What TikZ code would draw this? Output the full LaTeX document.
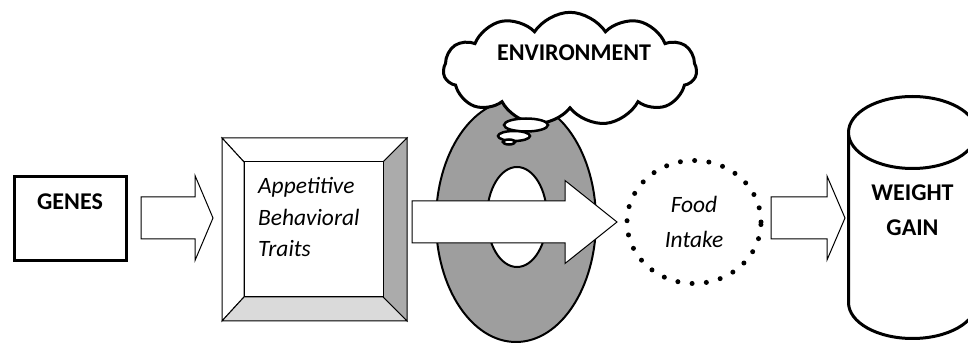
\documentclass[tikz,border=0pt]{standalone}
\usepackage{fontspec}
\setmainfont{Carlito}
\usetikzlibrary{calc,shapes.geometric,shapes.symbols}
\definecolor{donutgray}{HTML}{9E9E9E}
\definecolor{sidegray}{HTML}{ABABAB}
\definecolor{basegray}{HTML}{DADADA}
\tikzset{
  heavy/.style={draw=black, line width=0.9mm},
  hair/.style={draw=black, line width=0.3mm},
  donut/.style={draw=black, fill=donutgray, even odd rule, line width=0.6mm},
  blockarrow/.style={draw=black, fill=white, line width=0.3mm, line join=miter},
  boldlab/.style={font=\bfseries\fontsize{20.5}{30}\selectfont, align=center},
  itlab/.style={font=\itshape\fontsize{20}{27}\selectfont},
  dots/.style={draw=black, line width=1.5mm, line cap=round, dash pattern=on 0pt off 4.3mm},
  bubble/.style={heavy, fill=white, line width=0.75mm},
}
% start, tip, body half, head half, head length
\newcommand{\blockarrow}[5]{%
  \draw[blockarrow] ($(#1)+(0,-#3)$) -- ($(#2)+(-#5,-#3)$) -- ($(#2)+(-#5,-#4)$) -- (#2)
    -- ($(#2)+(-#5,#4)$) -- ($(#2)+(-#5,#3)$) -- ($(#1)+(0,#3)$) -- cycle;}
\begin{document}
\begin{tikzpicture}[x=0.3mm,y=-0.3mm]
  \useasboundingbox (0,0) rectangle (968,344);

  % genes
  \node[heavy, rectangle, minimum width=33.6mm, minimum height=25.2mm, outer sep=0pt] (genes) at (70.5,218.5) {};
  \node[boldlab] (genestxt) at (70,202) {GENES};

  % bevelled box
  \node[minimum width=55.5mm, minimum height=54.9mm, inner sep=0pt, outer sep=0pt] (bevel) at (314.5,229.5) {};
  \coordinate (inNW) at ($(bevel.north west)+(22,24)$);
  \coordinate (inNE) at ($(bevel.north east)+(-24,24)$);
  \coordinate (inSW) at ($(bevel.south west)+(22,-24)$);
  \coordinate (inSE) at ($(bevel.south east)+(-24,-24)$);
  \draw[hair, fill=white] (bevel.north west) -- (bevel.north east) -- (inNE) -- (inNW) -- cycle;
  \draw[hair, fill=white] (bevel.north west) -- (inNW) -- (inSW) -- (bevel.south west) -- cycle;
  \draw[hair, fill=sidegray] (bevel.north east) -- (bevel.south east) -- (inSE) -- (inNE) -- cycle;
  \draw[hair, fill=basegray] (bevel.south west) -- (inSW) -- (inSE) -- (bevel.south east) -- cycle;
  \draw[hair, fill=white] (inNW) rectangle (inSE);
  \node[itlab, align=left, anchor=west] (traits) at (254,217) {Appetitive\\Behavioral\\Traits};

  % environment ring
  \draw[donut] (516,221) ellipse[x radius=80, y radius=121] (517,217) ellipse[x radius=30, y radius=50];

  % food intake
  \node[dots, ellipse, minimum width=40.2mm, minimum height=36.9mm, outer sep=0pt,
        font=\itshape\fontsize{20}{30}\selectfont, align=center] (food) at (694,222) {Food\\Intake};

  % weight gain can
  \coordinate (can) at (912.5,132.5);
  \draw[heavy, fill=white] ($(can)+(-64,0)$) -- ($(can)+(-64,170)$)
    arc[start angle=180, end angle=0, x radius=64, y radius=36] -- ($(can)+(64,0)$);
  \draw[heavy, fill=white] (can) ellipse[x radius=64, y radius=36];
  \node[boldlab] (weight) at ($(can)+(0,78)$) {WEIGHT\\GAIN};

  % arrows
  \coordinate (a1s) at ($(genes.east)+(14.5,-0.5)$);
  \coordinate (a1t) at ($(a1s -| bevel.west)+(-9,0)$);
  \blockarrow{a1s}{a1t}{21}{42.5}{18}
  \coordinate (a2s) at ($(bevel.east |- food.center)+(5,0)$);
  \coordinate (a2t) at ($(food.west)+(-10,0)$);
  \blockarrow{a2s}{a2t}{21}{41.5}{52}
  \coordinate (a3s) at ($(food.east)+(10,-4)$);
  \coordinate (a3t) at ($(a3s -| can)+(-67.5,0)$);
  \blockarrow{a3s}{a3t}{21}{42}{18}

  % thought cloud
  \node[cloud, heavy, fill=white, cloud puffs=11, cloud puff arc=115, aspect=2.3,
        minimum width=76mm, minimum height=34mm, inner sep=0pt] (cloud) at (570,69) {};
  \node[boldlab] (env) at (574,53) {ENVIRONMENT};
  \draw[bubble] (526,125) ellipse[x radius=22, y radius=6.5];
  \draw[bubble] (514,136) ellipse[x radius=16, y radius=5];
  \draw[bubble] (509,142) ellipse[x radius=6, y radius=2.5];
\end{tikzpicture}
\end{document}
